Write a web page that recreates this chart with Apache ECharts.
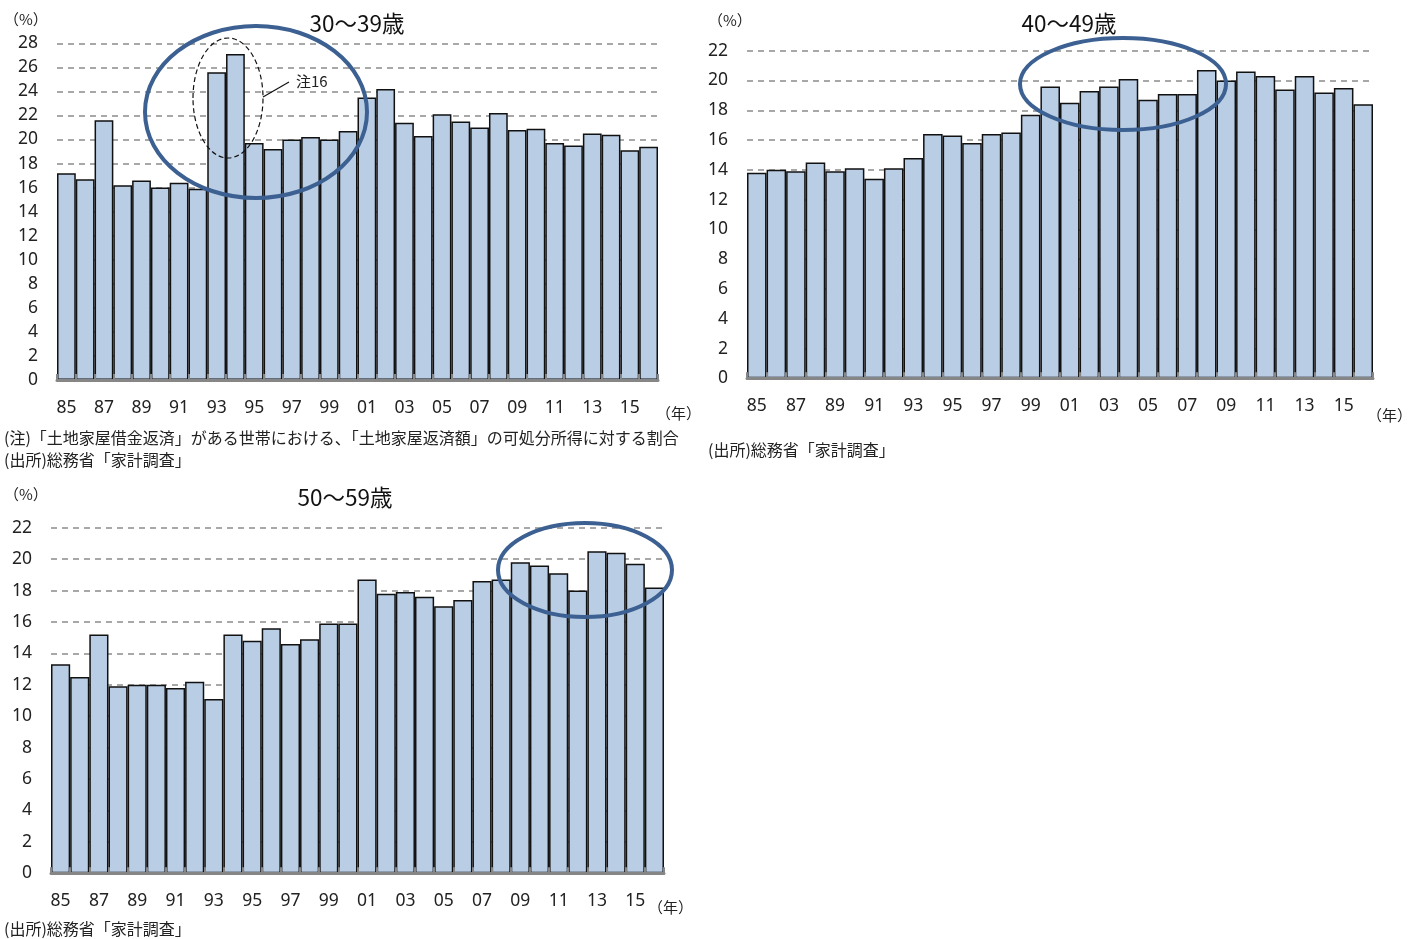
<!DOCTYPE html>
<html>
<head>
<meta charset="utf-8">
<script src="https://cdn.jsdelivr.net/npm/echarts@6/dist/echarts.min.js"></script>
<style>
  html, body { margin: 0; padding: 0; background: #fff; }
  #chart { width: 1416px; height: 939px; }
</style>
</head>
<body>
<div id="chart"></div>
<script>
// Years 1985–2016 shown as two-digit labels
const years = ['85','86','87','88','89','90','91','92','93','94','95','96','97','98','99','00',
               '01','02','03','04','05','06','07','08','09','10','11','12','13','14','15','16'];

// Housing loan repayment as % of disposable income, by householder age
const age30s = [17.2, 16.7, 21.6, 16.2, 16.6, 16.0, 16.4, 15.9, 25.6, 27.1, 19.7, 19.2, 20.0, 20.2, 20.0, 20.7,
                23.5, 24.2, 21.4, 20.3, 22.1, 21.5, 21.0, 22.2, 20.8, 20.9, 19.7, 19.5, 20.5, 20.4, 19.1, 19.4];
const age40s = [13.8, 14.0, 13.9, 14.5, 13.9, 14.1, 13.4, 14.1, 14.8, 16.4, 16.3, 15.8, 16.4, 16.5, 17.7, 19.6,
                18.5, 19.3, 19.6, 20.1, 18.7, 19.1, 19.1, 20.7, 20.0, 20.6, 20.3, 19.4, 20.3, 19.2, 19.5, 18.4];
const age50s = [13.3, 12.5, 15.2, 11.9, 12.0, 12.0, 11.8, 12.2, 11.1, 15.2, 14.8, 15.6, 14.6, 14.9, 15.9, 15.9,
                18.7, 17.8, 17.9, 17.6, 17.0, 17.4, 18.6, 18.7, 19.8, 19.6, 19.1, 18.0, 20.5, 20.4, 19.7, 18.2];

const panelTitles = ['30〜39歳', '40〜49歳', '50〜59歳'];
const yMax = [28, 22, 22];

const NUM_FONT = '"Noto Sans", "Noto Sans CJK JP", sans-serif';
const JP_FONT = '"Noto Sans CJK JP", sans-serif';

const grids = [
  { left: 57, top: 43.3, width: 601, height: 336.7 },
  { left: 747, top: 50.7, width: 626, height: 327.6 },
  { left: 51, top: 527.7, width: 613, height: 345.6 }
];

const seriesData = [age30s, age40s, age50s];

const xAxes = grids.map((g, i) => ({
  type: 'category',
  gridIndex: i,
  data: years,
  z: 5,
  axisLine: { lineStyle: { color: '#868686', width: 3 } },
  axisTick: { show: true, inside: true, length: 6, interval: 0, lineStyle: { color: '#868686', width: 2 } },
  axisLabel: { interval: 1, margin: 19, color: '#222', fontSize: 17.5, fontFamily: NUM_FONT }
}));

const yAxes = grids.map((g, i) => ({
  type: 'value',
  gridIndex: i,
  min: 0,
  max: yMax[i],
  interval: 2,
  axisLine: { show: false },
  axisTick: { show: false },
  axisLabel: { margin: 19, color: '#222', fontSize: 17.5, fontFamily: NUM_FONT },
  splitLine: { lineStyle: { color: '#8c8c8c', width: 1.5, type: [6, 5] } }
}));

const series = seriesData.map((d, i) => ({
  type: 'bar',
  xAxisIndex: i,
  yAxisIndex: i,
  data: d,
  barCategoryGap: '0%',
  itemStyle: { color: '#B9CDE5', borderColor: '#111', borderWidth: 1.5 },
  emphasis: { disabled: true }
}));

const titles = [
  { text: panelTitles[0], left: 352, top: 7 },
  { text: panelTitles[1], left: 1064, top: 7 },
  { text: panelTitles[2], left: 340, top: 481 }
].map(t => ({
  text: t.text, left: t.left, top: t.top, textAlign: 'center',
  textStyle: { fontSize: 22.5, fontWeight: 'normal', color: '#111', fontFamily: JP_FONT }
}));

function label(x, y, text, size, align) {
  return {
    type: 'text', x: x, y: y, z: 10,
    style: { text: text, fontSize: size, fill: '#222', fontFamily: JP_FONT,
             textAlign: align || 'left', textVerticalAlign: 'middle' }
  };
}

const ellipseStroke = '#3B6091';

const graphic = [
  label(4, 19, '（%）', 15),
  label(708, 20, '（%）', 15),
  label(4, 494, '（%）', 15),
  label(656, 413, '（年）', 15),
  label(1367, 415, '（年）', 15),
  label(648, 907, '（年）', 15),
  label(4, 438, '(注)「土地家屋借金返済」がある世帯における、「土地家屋返済額」の可処分所得に対する割合', 16),
  label(4, 460, '(出所)総務省「家計調査」', 16),
  label(708, 450, '(出所)総務省「家計調査」', 16),
  label(4, 929, '(出所)総務省「家計調査」', 16),
  // highlight rings
  { type: 'ellipse', z: 20, shape: { cx: 256, cy: 112, rx: 111, ry: 86 },
    style: { fill: 'none', stroke: ellipseStroke, lineWidth: 4 } },
  { type: 'ellipse', z: 20, shape: { cx: 228, cy: 98, rx: 35, ry: 60 },
    style: { fill: 'none', stroke: '#111', lineWidth: 1.2, lineDash: [5, 3] } },
  { type: 'line', z: 20, shape: { x1: 263, y1: 97, x2: 289, y2: 82 },
    style: { stroke: '#111', lineWidth: 1.2 } },
  label(296, 81, '注16', 15),
  { type: 'ellipse', z: 20, shape: { cx: 1123, cy: 84, rx: 103, ry: 46 },
    style: { fill: 'none', stroke: ellipseStroke, lineWidth: 4 } },
  { type: 'ellipse', z: 20, shape: { cx: 585, cy: 570, rx: 87, ry: 47 },
    style: { fill: 'none', stroke: ellipseStroke, lineWidth: 4 } }
];

const chart = echarts.init(document.getElementById('chart'), null, { renderer: 'canvas' });
chart.setOption({
  animation: false,
  backgroundColor: '#fff',
  title: titles,
  grid: grids,
  xAxis: xAxes,
  yAxis: yAxes,
  series: series,
  graphic: graphic
});
</script>
</body>
</html>
